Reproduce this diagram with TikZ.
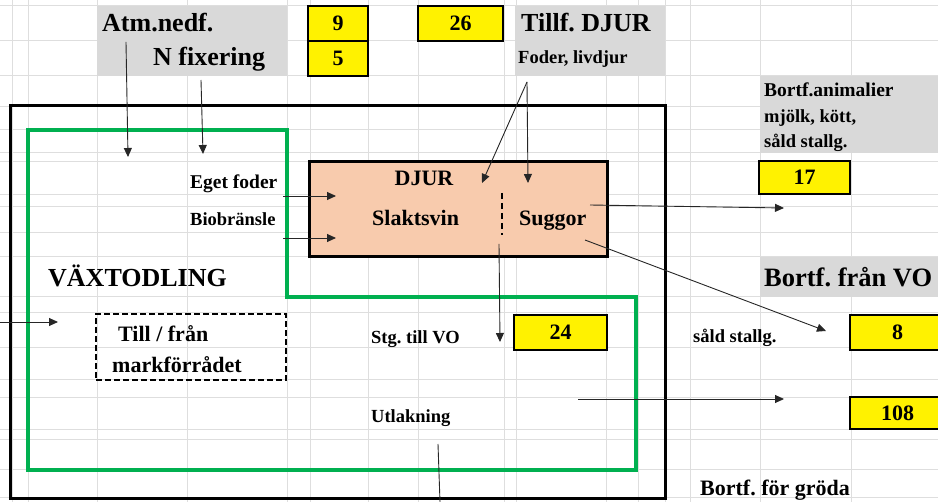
\documentclass[tikz,border=0pt]{standalone}
\usepackage{fontspec}
\setmainfont{Liberation Serif}
\usetikzlibrary{arrows.meta}
\frenchspacing

\definecolor{rutgra}{RGB}{222,222,222}
\definecolor{cellgra}{RGB}{217,217,217}
\definecolor{persika}{RGB}{248,203,173}
\definecolor{gron}{RGB}{0,176,80}

\newcommand\storstil{\fontsize{26}{28}\selectfont\bfseries}
\newcommand\mellanstil{\fontsize{22}{24}\selectfont\bfseries}
\newcommand\litenstil{\fontsize{18.5}{20}\selectfont\bfseries}

\begin{document}
\begin{tikzpicture}[x=1pt,y=-1pt,
  rut/.style={rutgra,line width=1pt},
  gul/.style={draw=black,line width=2pt,fill=yellow,inner sep=0pt,font=\mellanstil},
  pil/.style={-{Triangle[length=9pt,width=8pt]},line width=.9pt,black!85},
  txt/.style={inner sep=0pt,anchor=base west}]
\useasboundingbox (0,0) rectangle (938,502);
% rutnät
\foreach \x in {12,28,97,187,287,310,368,418,504,516,606,638,665,690,760,851}
  \draw[rut] (\x,0) -- (\x,502);
\foreach \y in {6,41,76,107,130,153,162,195,207,233,257,297,313,348,380,398,430,440,470,498}
  \draw[rut] (0,\y) -- (938,\y);
% grå celler
\fill[cellgra] (97,6) rectangle (287,76);
\fill[cellgra] (515,6) rectangle (665,76);
\fill[cellgra] (760,76) rectangle (938,153);
\fill[cellgra] (760,257) rectangle (938,297);
% ramar
\draw[gron, line width=3.5pt] (28,130) -| (287,297) -| (636,470) -- (28,470) -- cycle;
\draw[line width=3pt] (10,106) rectangle (665,499);
\node[draw, line width=3pt, fill=persika, minimum width=298pt, minimum height=95pt] (djur) at (458,209.5) {};
\draw[line width=2pt, dash pattern=on 6pt off 4pt] (502,193) -- (502,235);
\node[draw, line width=1.6pt, dash pattern=on 6pt off 3pt, minimum width=190pt, minimum height=66pt] (mark) at (191,347) {};

% gula rutor
\node[gul, minimum width=60pt, minimum height=35pt] (nio) at (338,23.5) {9};
\node[gul, minimum width=60pt, minimum height=35pt] (fem) at (338,58.5) {5};
\node[gul, minimum width=85pt, minimum height=35pt] (tjugosex) at (460.5,23.5) {26};
\node[gul, minimum width=91pt, minimum height=33pt] (sjutton) at (804.5,177.5) {17};
\node[gul, minimum width=93pt, minimum height=35pt] (tjugofyra) at (560.5,332.5) {24};
\node[gul, minimum width=95pt, minimum height=35pt] (atta) at (897.5,332.5) {8};
\node[gul, minimum width=95pt, minimum height=32pt] (hundraatta) at (897.5,413) {108};

% texter
\node[txt, font=\storstil] (atm) at (102,32) {Atm.nedf.};
\node[txt, font=\storstil] (nfix) at (153,66) {N fixering};
\node[txt, font=\storstil] (tillf) at (521,32) {Tillf. DJUR};
\node[txt, font=\litenstil] (foder) at (518,64) {Foder, livdjur};
\node[txt, font=\fontsize{19.5}{21}\selectfont\bfseries] (anim) at (764,97) {Bortf.animalier};
\node[txt, font=\litenstil] (mjolk) at (764,123) {mjölk, kött,};
\node[txt, font=\litenstil] (sald) at (764,148) {såld stallg.};
\node[txt, font=\fontsize{26.5}{28}\selectfont\bfseries] (franvo) at (764,287) {Bortf. från VO};
\node[txt, font=\fontsize{19.5}{21}\selectfont\bfseries] (eget) at (190,189) {Eget foder};
\node[txt, font=\litenstil] (bio) at (190,226) {Biobränsle};
\node[inner sep=0pt, anchor=base, font=\mellanstil] (djurtxt) at (424,186) {DJUR};
\node[txt, font=\mellanstil] (slakt) at (372,226) {Slaktsvin};
\node[txt, font=\mellanstil] (sugg) at (519,226) {Suggor};
\node[txt, font=\storstil] (vaxt) at (48,287) {VÄXTODLING};
\node[txt, font=\mellanstil] (till) at (118,342) {Till / från};
\node[txt, font=\mellanstil] (markf) at (112,373) {markförrådet};
\node[txt, font=\litenstil] (stg) at (371,344) {Stg. till VO};
\node[txt, font=\litenstil] (utlak) at (371,423) {Utlakning};
\node[txt, font=\litenstil] (sald2) at (693,343) {såld stallg.};
\node[txt, font=\mellanstil] (groda) at (700,496) {Bortf. för gröda};

% pilar
\coordinate (atmA) at (126,42);   \coordinate (atmB) at (128,157);
\coordinate (nfA) at (201,80);    \coordinate (nfB) at (203,154);
\coordinate (tfA) at (527,82);    \coordinate (tfB) at (482,183);  \coordinate (tfC) at (528,183);
\coordinate (egA) at (283,196);   \coordinate (egB) at (336,196);
\coordinate (bioA) at (283,238);  \coordinate (bioB) at (336,238);
\coordinate (sgA) at (590,205);   \coordinate (sgB) at (784,208);
\coordinate (sg2A) at (585,240);  \coordinate (sg2B) at (826,331);
\coordinate (stA) at (499,244);   \coordinate (stB) at (500,342);
\coordinate (utA) at (578,399);   \coordinate (utB) at (784,399);
\coordinate (ut2A) at (438,444);  \coordinate (ut2B) at (440,502);
\coordinate (inA) at (0,322);     \coordinate (inB) at (58,322);
\draw[pil] (atmA) -- (atmB);
\draw[pil] (nfA) -- (nfB);
\draw[pil] (tfA) -- (tfB);
\draw[pil] (tfA) -- (tfC);
\draw[pil] (egA) -- (egB);
\draw[pil] (bioA) -- (bioB);
\draw[pil] (sgA) -- (sgB);
\draw[pil] (sg2A) -- (sg2B);
\draw[pil] (stA) -- (stB);
\draw[pil] (utA) -- (utB);
\draw[line width=.9pt, black!85] (ut2A) -- (ut2B);
\draw[pil] (inA) -- (inB);
\end{tikzpicture}
\end{document}
